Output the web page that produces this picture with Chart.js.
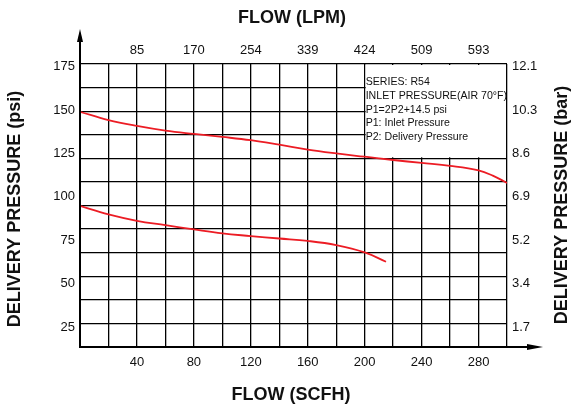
<!DOCTYPE html>
<html>
<head>
<meta charset="utf-8">
<script src="https://cdn.jsdelivr.net/npm/chart.js@4.4.1/dist/chart.umd.min.js"></script>
<style>
  html, body { margin: 0; padding: 0; background: #fff; }
  #wrap { width: 571px; height: 408px; }
</style>
</head>
<body>
<div id="wrap"><canvas id="myChart" width="571" height="408"></canvas></div>
<script>
// inlet pressure curve (upper) and the lower curve, psi vs SCFH
const upperFlow = [0, 20, 40, 60, 80, 100, 120, 140, 160, 180, 200, 220, 240, 260, 280, 290, 300];
const upperPsi = [149, 144.2, 140.8, 138.1, 136.2, 134.5, 132.6, 130.0, 127.2, 125.0, 123.1, 121.2, 119.5, 117.8, 115.2, 112.2, 108.0];
const lowerFlow = [0, 20, 40, 60, 80, 100, 120, 140, 160, 180, 200, 215];
const lowerPsi = [94.8, 89.9, 86.2, 83.7, 81.2, 78.9, 77.4, 76.0, 74.6, 72.2, 68.0, 62.6];

const scfhTicks = [40, 80, 120, 160, 200, 240, 280];
const lpmTicks = ['85', '170', '254', '339', '424', '509', '593'];
const psiTicks = [25, 50, 75, 100, 125, 150, 175];
const barTicks = ['1.7', '3.4', '5.2', '6.9', '8.6', '10.3', '12.1'];
const noteLines = ['SERIES: R54', 'INLET PRESSURE(AIR 70°F)', 'P1=2P2+14.5 psi', 'P1: Inlet Pressure', 'P2: Delivery Pressure'];

const PSI_MIN = 13.5, PSI_MAX = 176.5;
const RED = 'rgb(236, 28, 36)';

Chart.defaults.font.family = "'Liberation Sans', Arial, sans-serif";
Chart.defaults.font.size = 13;
Chart.defaults.color = '#111';

function toPoints(xs, ys) {
  return xs.map((x, i) => ({ x: x, y: ys[i] }));
}

const extras = {
  id: 'extras',
  beforeDatasetsDraw(chart) {
    // blank the note box (top right 5 columns x 4 rows) and write the note
    const ctx = chart.ctx;
    const x = chart.scales.x, yg = chart.scales.yg;
    const l = x.getPixelForValue(200), r = x.getPixelForValue(300);
    const t = yg.getPixelForValue(12), b = yg.getPixelForValue(8);
    ctx.save();
    ctx.fillStyle = '#fff';
    ctx.fillRect(l + 1, t + 1, r - l - 2, b - t - 2);
    ctx.fillStyle = '#111';
    ctx.font = "10.6px 'Liberation Sans', Arial, sans-serif";
    ctx.textBaseline = 'middle';
    noteLines.forEach((s, i) => ctx.fillText(s, l + 1, t + 18 + i * 13.8));
    ctx.restore();
  },
  afterDraw(chart) {
    const ctx = chart.ctx;
    const a = chart.chartArea;
    ctx.save();
    ctx.strokeStyle = '#000';
    ctx.fillStyle = '#000';
    ctx.lineWidth = 2;
    // y axis with arrow
    ctx.beginPath();
    ctx.moveTo(a.left, a.bottom + 1);
    ctx.lineTo(a.left, 40);
    ctx.stroke();
    ctx.beginPath();
    ctx.moveTo(a.left, 29);
    ctx.lineTo(a.left - 3, 42);
    ctx.lineTo(a.left + 3, 42);
    ctx.closePath();
    ctx.fill();
    // x axis with arrow
    ctx.beginPath();
    ctx.moveTo(a.left - 1, a.bottom);
    ctx.lineTo(530, a.bottom);
    ctx.stroke();
    ctx.beginPath();
    ctx.moveTo(543, a.bottom);
    ctx.lineTo(527, a.bottom - 3);
    ctx.lineTo(527, a.bottom + 3);
    ctx.closePath();
    ctx.fill();

    // axis titles
    ctx.font = "bold 18px 'Liberation Sans', Arial, sans-serif";
    ctx.textAlign = 'center';
    ctx.textBaseline = 'middle';
    ctx.fillStyle = '#111';
    ctx.fillText('FLOW (LPM)', 292, 18);
    ctx.fillText('FLOW (SCFH)', 291, 395);
    ctx.translate(15, 209);
    ctx.rotate(-Math.PI / 2);
    ctx.fillText('DELIVERY PRESSURE (psi)', 0, 0);
    ctx.rotate(Math.PI / 2);
    ctx.translate(562 - 15, -4);
    ctx.rotate(-Math.PI / 2);
    ctx.fillText('DELIVERY PRESSURE (bar)', 0, 0);
    ctx.restore();
  }
};

let ctx = document.getElementById('myChart').getContext('2d');
let myChart = new Chart(ctx, {
  type: 'line',
  data: {
    datasets: [{
      label: 'P1',
      data: toPoints(upperFlow, upperPsi),
      borderColor: RED,
      borderWidth: 1.8,
      pointRadius: 0,
      tension: 0.4,
      yAxisID: 'y'
    }, {
      label: 'P2',
      data: toPoints(lowerFlow, lowerPsi),
      borderColor: RED,
      borderWidth: 1.8,
      pointRadius: 0,
      tension: 0.4,
      yAxisID: 'y'
    }]
  },
  options: {
    responsive: false,
    animation: false,
    layout: { padding: 0 },
    plugins: {
      legend: { display: false },
      tooltip: { enabled: false }
    },
    scales: {
      x: {
        type: 'linear',
        position: 'bottom',
        min: 0,
        max: 300,
        border: { display: false },
        grid: { color: '#000', lineWidth: 1.3, drawTicks: false },
        ticks: {
          stepSize: 20,
          autoSkip: false,
          maxRotation: 0,
          padding: 8,
          callback: (v) => scfhTicks.includes(v) ? String(v) : ''
        },
        afterFit: (s) => { s.height = 61; }
      },
      xt: {
        type: 'linear',
        position: 'top',
        min: 0,
        max: 300,
        border: { display: false },
        grid: { display: false, drawTicks: false },
        afterBuildTicks: (s) => { s.ticks = scfhTicks.map(v => ({ value: v })); },
        ticks: {
          autoSkip: false,
          maxRotation: 0,
          padding: 6,
          callback: (v, i) => lpmTicks[i]
        },
        afterFit: (s) => { s.height = 64; }
      },
      y: {
        type: 'linear',
        position: 'left',
        min: PSI_MIN,
        max: PSI_MAX,
        border: { display: false },
        grid: { display: false, drawTicks: false },
        afterBuildTicks: (s) => { s.ticks = psiTicks.map(v => ({ value: v })); },
        ticks: { padding: 5, autoSkip: false },
        afterFit: (s) => { s.width = 80; }
      },
      yg: {
        type: 'linear',
        position: 'left',
        min: 0,
        max: 12,
        border: { display: false },
        grid: { color: '#000', lineWidth: 1.3, drawTicks: false },
        ticks: { display: false, stepSize: 1 },
        afterFit: (s) => { s.width = 0; }
      },
      yr: {
        type: 'linear',
        position: 'right',
        min: PSI_MIN,
        max: PSI_MAX,
        border: { display: false },
        grid: { display: false, drawTicks: false },
        afterBuildTicks: (s) => { s.ticks = psiTicks.map(v => ({ value: v })); },
        ticks: {
          padding: 5,
          autoSkip: false,
          callback: (v, i) => barTicks[i]
        },
        afterFit: (s) => { s.width = 64; }
      }
    }
  },
  plugins: [extras]
});
</script>
</body>
</html>
